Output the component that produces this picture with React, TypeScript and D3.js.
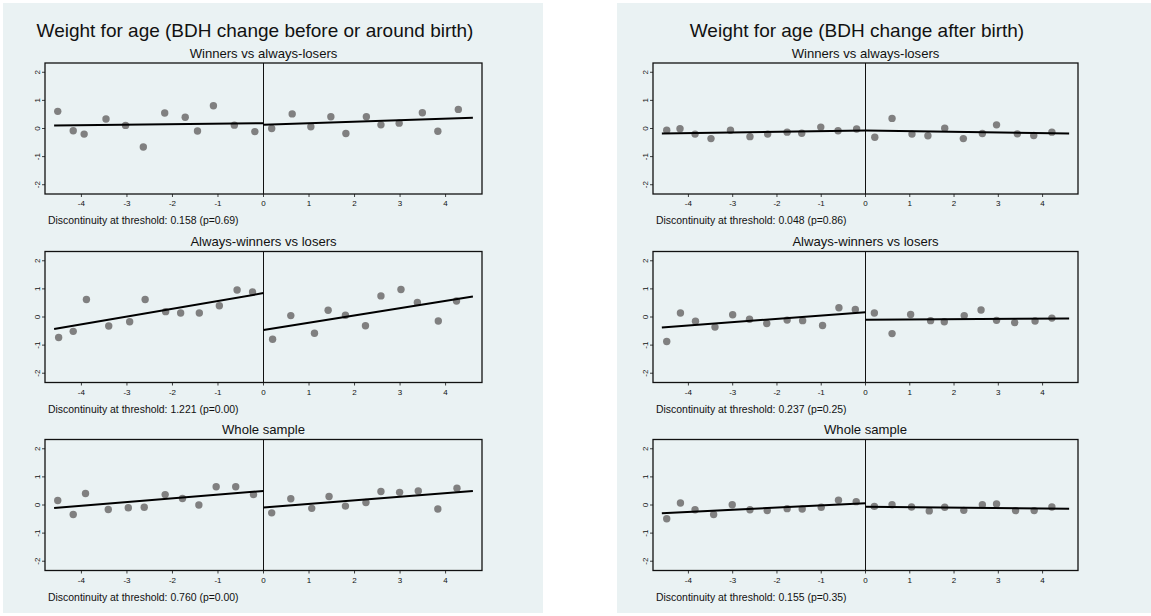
import React from "react";
import * as d3 from "d3";

const panelTitles = [
  "Weight for age (BDH change before or around birth)",
  "Weight for age (BDH change after birth)",
];
const rowTitles = ["Winners vs always-losers", "Always-winners vs losers", "Whole sample"];
const discontinuityLabels = [
  ["Discontinuity at threshold: 0.158 (p=0.69)", "Discontinuity at threshold: 1.221 (p=0.00)", "Discontinuity at threshold: 0.760 (p=0.00)"],
  ["Discontinuity at threshold: 0.048 (p=0.86)", "Discontinuity at threshold: 0.237 (p=0.25)", "Discontinuity at threshold: 0.155 (p=0.35)"],
];
const xTicks = [-4, -3, -2, -1, 0, 1, 2, 3, 4];
const yTicks = [-2, -1, 0, 1, 2];

// Panel 1: BDH change before or around birth
const beforeWinnersX = [-4.52, -4.18, -3.94, -3.46, -3.03, -2.64, -2.17, -1.72, -1.45, -1.10, -0.64, -0.19, 0.18, 0.63, 1.04, 1.48, 1.81, 2.26, 2.58, 2.98, 3.49, 3.83, 4.28];
const beforeWinnersY = [0.61, -0.08, -0.20, 0.34, 0.11, -0.66, 0.55, 0.40, -0.09, 0.81, 0.12, -0.11, 0.0, 0.52, 0.06, 0.42, -0.18, 0.42, 0.13, 0.19, 0.56, -0.10, 0.68];
const beforeWinnersFit = [0.11, 0.19, 0.135, 0.38];

const beforeAlwaysX = [-4.50, -4.18, -3.89, -3.40, -2.94, -2.60, -2.15, -1.82, -1.41, -0.97, -0.58, -0.24, 0.20, 0.60, 1.12, 1.42, 1.80, 2.24, 2.58, 3.02, 3.38, 3.84, 4.24];
const beforeAlwaysY = [-0.73, -0.51, 0.62, -0.32, -0.17, 0.62, 0.19, 0.14, 0.14, 0.40, 0.96, 0.89, -0.79, 0.05, -0.58, 0.24, 0.06, -0.31, 0.75, 0.98, 0.52, -0.14, 0.57];
const beforeAlwaysFit = [-0.43, 0.85, -0.46, 0.73];

const beforeWholeX = [-4.52, -4.18, -3.91, -3.41, -2.97, -2.62, -2.16, -1.78, -1.42, -1.04, -0.61, -0.22, 0.18, 0.60, 1.06, 1.44, 1.80, 2.25, 2.58, 2.99, 3.40, 3.83, 4.25];
const beforeWholeY = [0.16, -0.34, 0.41, -0.16, -0.10, -0.08, 0.37, 0.23, 0.0, 0.65, 0.65, 0.37, -0.28, 0.22, -0.12, 0.30, -0.04, 0.09, 0.48, 0.45, 0.50, -0.14, 0.60];
const beforeWholeFit = [-0.11, 0.50, -0.09, 0.50];

// Panel 2: BDH change after birth
const afterWinnersX = [-4.49, -4.19, -3.85, -3.49, -3.05, -2.61, -2.21, -1.77, -1.44, -1.01, -0.62, -0.20, 0.21, 0.60, 1.05, 1.41, 1.79, 2.21, 2.64, 2.96, 3.43, 3.80, 4.21];
const afterWinnersY = [-0.06, -0.01, -0.20, -0.36, -0.06, -0.29, -0.20, -0.13, -0.17, 0.05, -0.08, -0.02, -0.31, 0.36, -0.20, -0.26, 0.01, -0.36, -0.18, 0.13, -0.19, -0.25, -0.13];
const afterWinnersFit = [-0.18, -0.07, -0.07, -0.18];

const afterAlwaysX = [-4.49, -4.18, -3.84, -3.40, -3.00, -2.62, -2.23, -1.77, -1.42, -0.97, -0.60, -0.23, 0.20, 0.60, 1.02, 1.47, 1.78, 2.23, 2.61, 2.96, 3.37, 3.83, 4.21];
const afterAlwaysY = [-0.87, 0.14, -0.15, -0.36, 0.08, -0.08, -0.23, -0.11, -0.13, -0.30, 0.33, 0.27, 0.14, -0.59, 0.09, -0.13, -0.17, 0.05, 0.25, -0.12, -0.20, -0.14, -0.04];
const afterAlwaysFit = [-0.37, 0.17, -0.10, -0.05];

const afterWholeX = [-4.49, -4.18, -3.85, -3.43, -3.01, -2.61, -2.22, -1.77, -1.43, -1.00, -0.61, -0.21, 0.20, 0.60, 1.04, 1.44, 1.79, 2.22, 2.64, 2.96, 3.39, 3.81, 4.21];
const afterWholeY = [-0.49, 0.07, -0.17, -0.34, 0.01, -0.17, -0.20, -0.13, -0.14, -0.08, 0.17, 0.12, -0.05, 0.01, -0.07, -0.21, -0.08, -0.19, 0.01, 0.04, -0.20, -0.20, -0.07];
const afterWholeFit = [-0.29, 0.06, -0.06, -0.13];

const plots = [
  [
    { xs: beforeWinnersX, ys: beforeWinnersY, fit: beforeWinnersFit },
    { xs: beforeAlwaysX, ys: beforeAlwaysY, fit: beforeAlwaysFit },
    { xs: beforeWholeX, ys: beforeWholeY, fit: beforeWholeFit },
  ],
  [
    { xs: afterWinnersX, ys: afterWinnersY, fit: afterWinnersFit },
    { xs: afterAlwaysX, ys: afterAlwaysY, fit: afterAlwaysFit },
    { xs: afterWholeX, ys: afterWholeY, fit: afterWholeFit },
  ],
];

const BG = "#eaf2f3";
const FONT = "'Liberation Sans', Arial, Helvetica, sans-serif";

const panels = [
  { bgX: 3, bgW: 540, titleX: 255, frameX0: 45, frameX1: 482 },
  { bgX: 617, bgW: 534, titleX: 857, frameX0: 653, frameX1: 1078 },
];
const rowTops = [63, 251.5, 439.5];
const frameH = 131;

function SubPlot({ panel, row, data }: any) {
  const p = panels[panel];
  const top = rowTops[row];
  const bottom = top + frameH;
  const x = d3.scaleLinear().domain([-4.8, 4.8]).range([p.frameX0, p.frameX1]);
  const y = d3.scaleLinear().domain([-2.33, 2.33]).range([bottom, top]);
  const lineGen = d3.line<[number, number]>().x((d) => x(d[0])).y((d) => y(d[1]));
  const seg1: [number, number][] = [[-4.6, data.fit[0]], [0, data.fit[1]]];
  const seg2: [number, number][] = [[0, data.fit[2]], [4.6, data.fit[3]]];
  const cx = (p.frameX0 + p.frameX1) / 2;
  return (
    <g>
      <text x={cx} y={top - 10} textAnchor="middle" dominantBaseline="central" fontSize={13.1} fontFamily={FONT} fill="#111">
        {rowTitles[row]}
      </text>
      <rect x={p.frameX0} y={top} width={p.frameX1 - p.frameX0} height={frameH} fill={BG} stroke="none" />
      <line x1={x(0)} x2={x(0)} y1={top} y2={bottom} stroke="#111" strokeWidth={1} />
      {data.xs.map((xv: number, i: number) => (
        <circle key={i} cx={x(xv)} cy={y(data.ys[i])} r={3.7} fill="#808080" />
      ))}
      <path d={lineGen(seg1) || ""} stroke="#000" strokeWidth={2} fill="none" />
      <path d={lineGen(seg2) || ""} stroke="#000" strokeWidth={2} fill="none" />
      <rect x={p.frameX0} y={top} width={p.frameX1 - p.frameX0} height={frameH} fill="none" stroke="#111" strokeWidth={1.3} />
      {xTicks.map((t) => (
        <g key={"x" + t}>
          <line x1={x(t)} x2={x(t)} y1={bottom} y2={bottom + 3} stroke="#111" strokeWidth={0.8} />
          <text x={x(t)} y={bottom + 9.5} textAnchor="middle" dominantBaseline="central" fontSize={8} fontFamily={FONT} fill="#111">
            {t}
          </text>
        </g>
      ))}
      {yTicks.map((t) => (
        <g key={"y" + t}>
          <line x1={p.frameX0 - 3} x2={p.frameX0} y1={y(t)} y2={y(t)} stroke="#111" strokeWidth={0.8} />
          <text
            transform={`translate(${p.frameX0 - 7.5},${y(t)}) rotate(-90)`}
            textAnchor="middle"
            dominantBaseline="central"
            fontSize={8}
            fontFamily={FONT}
            fill="#111"
          >
            {t}
          </text>
        </g>
      ))}
      <text x={p.frameX0 + 3} y={bottom + 26.5} dominantBaseline="central" fontSize={10.45} fontFamily={FONT} fill="#111">
        {discontinuityLabels[panel][row]}
      </text>
    </g>
  );
}

export default function App() {
  return (
    <svg width={1151} height={616} style={{ position: "absolute", left: 0, top: 0, background: "#fff" }}>
      {panels.map((p, pi) => (
        <g key={pi}>
          <rect x={p.bgX} y={3} width={p.bgW} height={610} fill={BG} />
          <text x={p.titleX} y={30} textAnchor="middle" dominantBaseline="central" fontSize={19} fontFamily={FONT} fill="#111">
            {panelTitles[pi]}
          </text>
          {plots[pi].map((d, ri) => (
            <SubPlot key={ri} panel={pi} row={ri} data={d} />
          ))}
        </g>
      ))}
    </svg>
  );
}
